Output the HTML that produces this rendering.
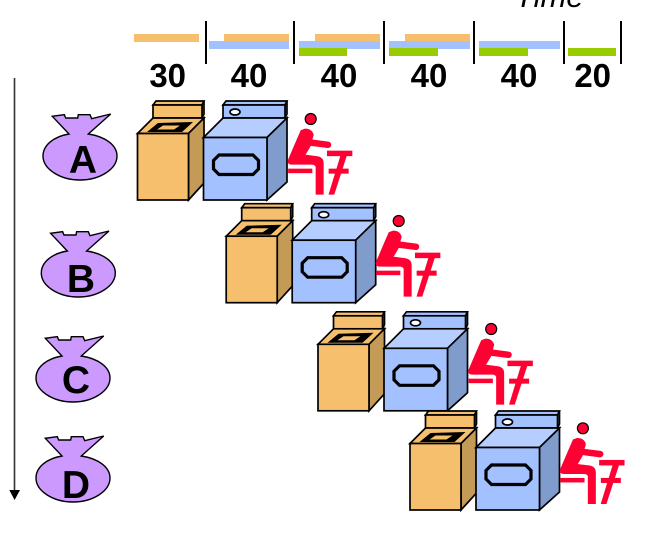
<!DOCTYPE html>
<html><head><meta charset="utf-8"><style>
html,body{margin:0;padding:0;background:#fff;width:672px;height:534px;overflow:hidden}
svg{display:block}
text{font-family:"Liberation Sans",sans-serif}
.n{font-size:33px;font-weight:bold;text-anchor:middle}
.l{font-size:39px;font-weight:bold;text-anchor:middle}
</style></head><body>
<svg width="672" height="534" viewBox="0 0 672 534" xmlns="http://www.w3.org/2000/svg">
<defs>
<g id="set" stroke="#000" stroke-width="1.7" stroke-linejoin="miter">
  <polygon points="153,105 156,101 204,101 202,105" fill="#f5bf6e"/>
  <polygon points="202,105 204,101 204,114 202,118" fill="#c49a57"/>
  <rect x="153" y="105" width="49" height="13" fill="#f5bf6e"/>
  <polygon points="137.5,133.5 153,118 204,118 188.5,133.5" fill="#f5bf6e"/>
  <polygon points="188.5,133.5 204,118 204,183 188.5,200" fill="#c49a57"/>
  <rect x="137.5" y="133.5" width="51" height="66.5" fill="#f5bf6e"/>
  <polygon points="147,132 158,123 193,122 182,132" fill="#000" stroke="none"/>
  <polygon points="157,129.5 163,125.5 180,125.5 174,129.5" fill="#f5bf6e" stroke="none"/>
  <polygon points="223,105 226,101 287,101 285,105" fill="#a3c1ff"/>
  <polygon points="285,105 287,101 287,114 285,118" fill="#809ccc"/>
  <rect x="223" y="105" width="62" height="13" fill="#a3c1ff"/>
  <ellipse cx="235" cy="112" rx="5" ry="3" fill="#fff"/>
  <polygon points="203.5,137.5 223,118 287,118 267,137.5" fill="#b5cdff"/>
  <polygon points="267,137.5 287,118 287,182 267,200" fill="#809ccc"/>
  <rect x="203.5" y="137.5" width="63.5" height="62.5" fill="#a3c1ff"/>
  <polygon points="219,155 253,155 258.5,160.5 258.5,169 253,174.5 219,174.5 213.5,169 213.5,160.5" fill="#a3c1ff" stroke-width="3.2"/>
</g>
<g id="person">
  <circle cx="310.7" cy="119" r="5.5" fill="#ff0033" stroke="#000" stroke-width="1.2"/>
  <g fill="#ff0033" stroke="#ff0033" stroke-width="0.7">
  <path d="M305,129 Q312,129 313.3,135 L310,146.7 L305,155 L318.3,156.7 Q323.3,158 323.3,163.3 L323.3,194.3 L316,194.3 L316,166.7 Q315,164.3 311.7,164.3 L291.7,164.3 Q287,164 288.3,160 L298.3,136.7 L301,130.5 Z"/>
  <rect x="288.5" y="169" width="23.5" height="3.8"/>
  <rect x="327.3" y="151" width="24.7" height="4.8"/>
  <rect x="329" y="169" width="19.3" height="4.3"/>
  <polygon points="341,155 346.7,155 334,194.3 329,194.3"/>
  </g>
  <path d="M310,142.5 L328,144.8" stroke="#ff0033" stroke-width="6.5" stroke-linecap="round" fill="none"/>
</g>
<g id="bag">
  <path d="M69,134 L52.3,116.3 L64.3,114.7 L65.7,118 L77.7,118 L78.3,114.7 L90,114.7 L91.7,118.7 L110.7,114 L88.3,134 C105,136.5 117,145 117,156 C117,169 100,180 80,180 C60,180 43,169 43,156 C43,145 54,136.5 69,134 Z" fill="#cc99ff" stroke="#000" stroke-width="1.4"/>
</g>
</defs>

<text x="515" y="7" font-size="31" font-style="italic">Time</text>

<g fill="#f5bf6e">
<rect x="134" y="34" width="65" height="8"/>
<rect x="224" y="34" width="65" height="8"/>
<rect x="315" y="34" width="65" height="8"/>
<rect x="405" y="34" width="65" height="8"/>
</g>
<g fill="#a3c1ff">
<rect x="209" y="41" width="80" height="8"/>
<rect x="299" y="41" width="81" height="8"/>
<rect x="389" y="41" width="81" height="8"/>
<rect x="479" y="41" width="81" height="8"/>
</g>
<g fill="#99cc00">
<rect x="299" y="48" width="48" height="8"/>
<rect x="389" y="48" width="49" height="8"/>
<rect x="479" y="48" width="49" height="8"/>
<rect x="568" y="48" width="48" height="8"/>
</g>
<g fill="#000">
<rect x="205" y="21" width="2" height="43"/>
<rect x="293" y="21" width="2" height="43"/>
<rect x="383" y="21" width="2" height="43"/>
<rect x="473" y="21" width="2" height="43"/>
<rect x="563" y="21" width="2" height="43"/>
<rect x="620" y="21" width="2" height="43"/>
</g>
<text class="n" x="167.7" y="87">30</text>
<text class="n" x="249" y="87">40</text>
<text class="n" x="339" y="87">40</text>
<text class="n" x="429" y="87">40</text>
<text class="n" x="519" y="87">40</text>
<text class="n" x="592.7" y="87">20</text>

<rect x="13.7" y="78" width="1.6" height="414" fill="#333"/>
<polygon points="9.3,490 20,490 14.6,500" fill="#000"/>

<use href="#bag"/>
<use href="#bag" transform="translate(-1.7,117)"/>
<use href="#bag" transform="translate(-7,222)"/>
<use href="#bag" transform="translate(-7,322)"/>
<text class="l" x="83" y="173">A</text>
<text class="l" x="81" y="292">B</text>
<text class="l" x="76" y="393">C</text>
<text class="l" x="76" y="498">D</text>

<use href="#set"/>
<use href="#person"/>
<use href="#set" transform="translate(88.7,102.7)"/>
<use href="#person" transform="translate(88,102)"/>
<use href="#set" transform="translate(180.5,210.8)"/>
<use href="#person" transform="translate(180.5,210)"/>
<use href="#set" transform="translate(272.5,310)"/>
<use href="#person" transform="translate(272.2,309.3)"/>
</svg>
</body></html>
